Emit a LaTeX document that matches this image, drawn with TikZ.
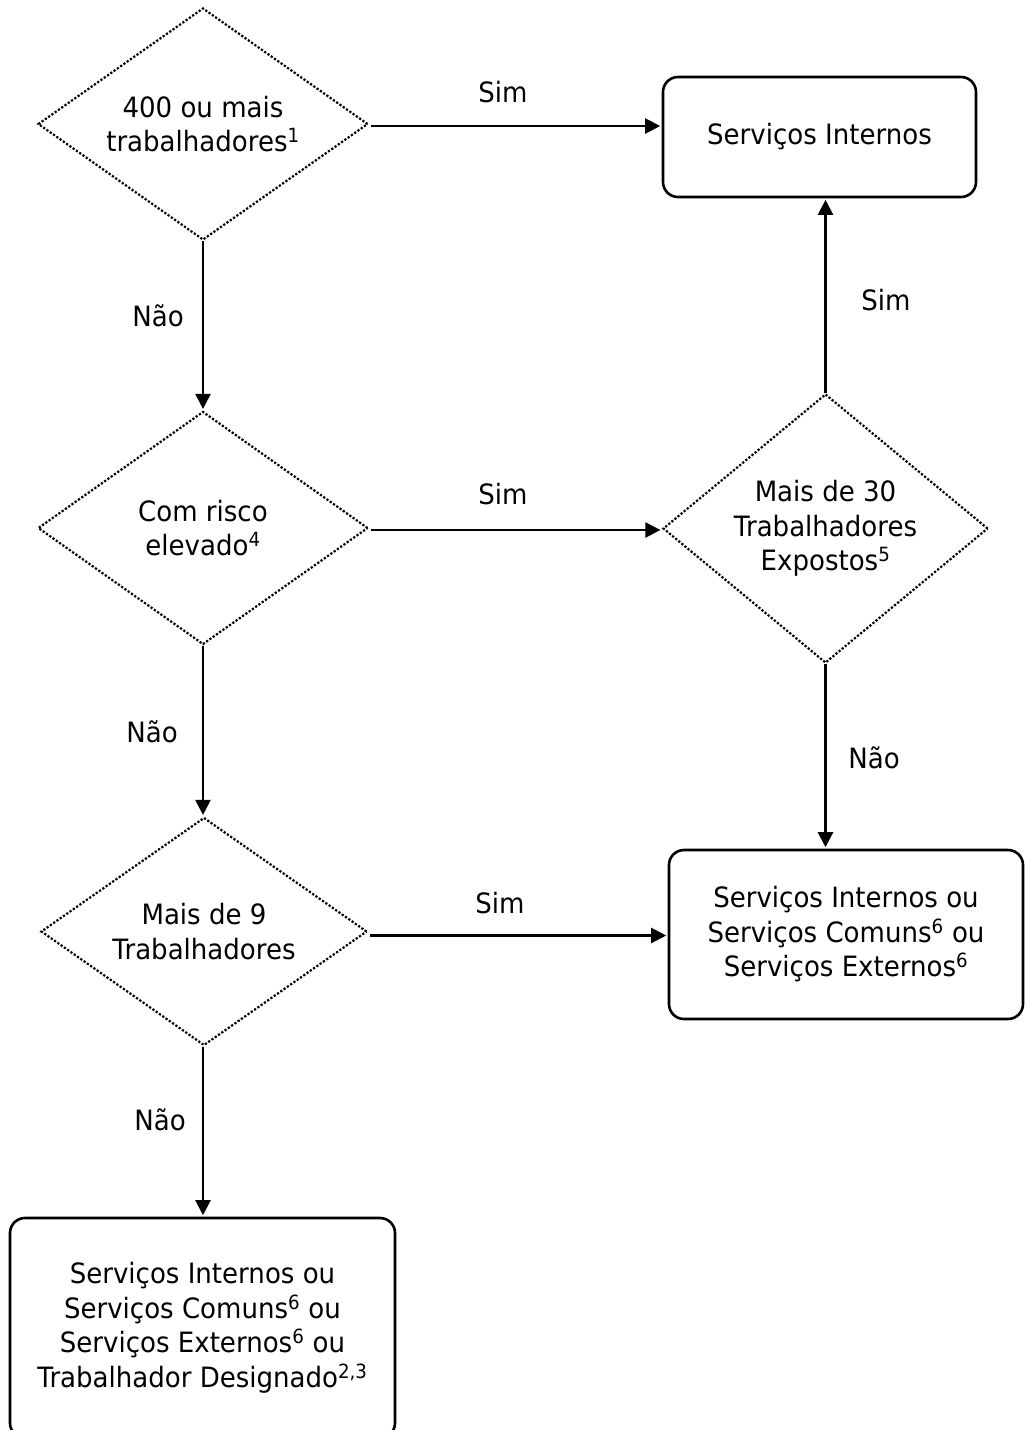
\documentclass[tikz,border=0pt]{standalone}
\usepackage{fontspec}
\setmainfont{DejaVu Sans}[FakeStretch=0.93]
\usetikzlibrary{shapes.geometric,arrows.meta}
\begin{document}
\begin{tikzpicture}[x=1pt,y=-1pt,
  font=\fontsize{28pt}{34.5pt}\selectfont,
  decision/.style={shape=diamond, draw, line width=2.2pt, dash pattern=on 2.2pt off 1.8pt,
     inner sep=0pt, align=center},
  outcome/.style={shape=rectangle, draw, line width=2.6pt, rounded corners=15pt, align=center},
  flow/.style={line width=2.2pt, shorten >=1.5pt, -{Triangle[length=15pt,width=15pt]}},
  lbl/.style={inner sep=0pt}]
\useasboundingbox (0,0) rectangle (1025,1430);
\node[decision, aspect=1.42, minimum width=330pt, minimum height=232pt] (d1) at (203,124)
  {400 ou mais\\trabalhadores\textsuperscript{1}};
\node[outcome, minimum width=313pt, minimum height=120pt] (b1) at (819.5,137) {Serviços Internos};
\node[decision, aspect=1.42, minimum width=330pt, minimum height=233pt] (d2) at (203,528)
  {Com risco\\elevado\textsuperscript{4}};
\node[decision, aspect=1.2, minimum width=325pt, minimum height=269pt] (d3) at (825.5,528.5)
  {Mais de 30\\Trabalhadores\\Expostos\textsuperscript{5}};
\node[outcome, minimum width=354pt, minimum height=169pt] (b2) at (846,934.5)
  {Serviços Internos ou\\Serviços Comuns\textsuperscript{6} ou\\Serviços Externos\textsuperscript{6}};
\node[decision, aspect=1.43, minimum width=326pt, minimum height=228pt] (d4) at (204,931.5)
  {Mais de 9\\Trabalhadores};
\node[outcome, minimum width=385pt, minimum height=220pt] (b3) at (202.5,1328)
  {Serviços Internos ou\\Serviços Comuns\textsuperscript{6} ou\\Serviços Externos\textsuperscript{6} ou\\Trabalhador Designado\textsuperscript{2,3}};

\draw[flow] (d1.east) ++(2,2) coordinate (s1) -- (s1 -| b1.west);
\draw[flow] (d1.south) -- (d2.north);
\draw[flow] (d2.east) ++(2,2) coordinate (s2) -- (s2 -| d3.west);
\draw[flow] (d2.south) -- (d2.south |- d4.north);
\draw[flow] (d3.north) -- (d3.north |- b1.south);
\draw[flow] (d3.south) -- (d3.south |- b2.north);
\draw[flow] (d4.east) ++(2,4) coordinate (s4) -- (s4 -| b2.west);
\draw[flow] (d2.south |- d4.south) coordinate (s5) -- (s5 |- b3.north);

\node[lbl] (l1) at (503,92) {Sim};
\node[lbl] (l2) at (503,494) {Sim};
\node[lbl] (l3) at (500,903) {Sim};
\node[lbl] (l4) at (886,300) {Sim};
\node[lbl] (l5) at (158,316) {Não};
\node[lbl] (l6) at (152,732) {Não};
\node[lbl] (l7) at (160,1120) {Não};
\node[lbl] (l8) at (874,758) {Não};
\end{tikzpicture}
\end{document}
